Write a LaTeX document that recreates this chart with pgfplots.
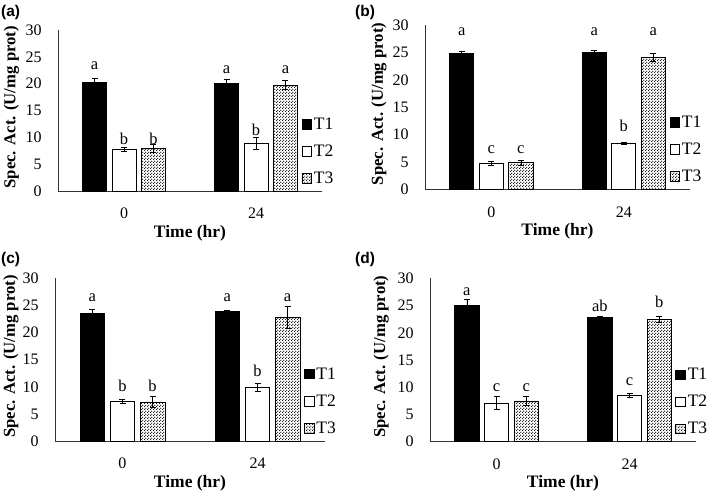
\documentclass[border=0pt]{standalone}
\usepackage{fontspec}
\setmainfont{Liberation Serif}
\newfontfamily\panelfont{Liberation Sans}
\usepackage{pgfplots}
\pgfplotsset{compat=1.18}
\usetikzlibrary{patterns}

\pgfdeclarepatternformonly{finedots}{\pgfqpoint{0pt}{0pt}}{\pgfqpoint{3pt}{3pt}}{\pgfqpoint{3pt}{3pt}}{%
  \pgfpathcircle{\pgfqpoint{0.75pt}{0.75pt}}{0.8pt}%
  \pgfpathcircle{\pgfqpoint{2.25pt}{2.25pt}}{0.8pt}%
  \pgfusepath{fill}}

\tikzset{lett/.style={font=\fontsize{16.5}{16.5}\selectfont, inner sep=0pt}}

\pgfplotsset{
  panel/.style={
    scale only axis, anchor=south west,
    xmin=-0.5, xmax=1.5, ymin=0, ymax=30,
    axis lines=left, axis line style={-, line width=0.8pt, black!80},
    ytick={0,5,...,30}, xtick={0,1}, xticklabels={0,24},
    tick style={draw=none},
    /pgf/number format/assume math mode=true,
    yticklabel style={font=\fontsize{16}{16}\selectfont, anchor=east, inner sep=0pt, xshift=-14pt},
    xticklabel style={font=\fontsize{16}{16}\selectfont, anchor=north, inner sep=0pt, yshift=-15pt},
    xlabel={\textbf{Time (hr)}},
    xlabel style={font=\fontsize{17.5}{17.5}\selectfont, at={(axis description cs:0.5,0)}, anchor=center, yshift=-42pt},
    ylabel={\textbf{Spec. Act. (U/mg prot)}},
    legend style={at={(0.922,0.025)}, anchor=south west, draw=none, fill=none,
      font=\fontsize{17.5}{17.5}\selectfont, inner sep=0pt, row sep=10pt, cells={anchor=west}},
    legend image code/.code={\draw[##1, line width=0.7pt] (0pt,-4.8pt) rectangle (9.6pt,4.8pt);},
    clip=false,
  },
  ylab/.style={ylabel style={font=\fontsize{16.7}{16.7}\selectfont, at={(axis description cs:#1,0.52)}, anchor=center}},
  t1/.style={ybar, bar width=0.182, bar shift=0pt, fill=black, draw=black, line width=0.7pt,
    error bars/.cd, y dir=both, y explicit,
    error bar style={black, line width=0.6pt}, error mark options={black, line width=0.6pt, mark size=3pt, rotate=90}},
  t2/.style={ybar, bar width=0.182, bar shift=0pt, fill=white, draw=black, line width=0.7pt,
    error bars/.cd, y dir=both, y explicit,
    error bar style={black, line width=0.6pt}, error mark options={black, line width=0.6pt, mark size=3pt, rotate=90}},
  t3/.style={ybar, bar width=0.182, bar shift=0pt, pattern=finedots, pattern color=black, draw=black, line width=0.7pt,
    error bars/.cd, y dir=both, y explicit,
    error bar style={black, line width=0.6pt}, error mark options={black, line width=0.6pt, mark size=3pt, rotate=90}},
}

\begin{document}
\begin{tikzpicture}
\path[use as bounding box] (0pt,0pt) rectangle (709pt,-493pt);

% ---------- (a)
\node[anchor=west, font=\panelfont\bfseries\fontsize{15.5}{15.5}\selectfont, inner sep=0pt] at (1pt,-12pt) {(a)};
\begin{axis}[panel, ylab=-0.176, at={(58pt,-191pt)}, width=264pt, height=161pt]
\addplot[t1] coordinates {(-0.223,20.2) +- (0,0.85) (0.777,20.0) +- (0,0.9)};
\addplot[t2] coordinates {(0,7.8) +- (0,0.4) (1,8.9) +- (0,1.05)};
\addplot[t3] coordinates {(0.223,7.95) +- (0,0.7) (1.223,19.75) +- (0,0.85)};
\legend{T1,T2,T3}
\node[lett] at (axis cs:-0.223,23.4) {a};
\node[lett] at (axis cs:0,9.7) {b};
\node[lett] at (axis cs:0.223,9.7) {b};
\node[lett] at (axis cs:0.777,22.6) {a};
\node[lett] at (axis cs:1,11.4) {b};
\node[lett] at (axis cs:1.223,22.6) {a};
\end{axis}

% ---------- (b)
\node[anchor=west, font=\panelfont\bfseries\fontsize{15.5}{15.5}\selectfont, inner sep=0pt] at (355pt,-12pt) {(b)};
\begin{axis}[panel, ylab=-0.174, at={(425pt,-189.3pt)}, width=265pt, height=164.3pt]
\addplot[t1] coordinates {(-0.223,24.75) +- (0,0.5) (0.777,25.0) +- (0,0.4)};
\addplot[t2] coordinates {(0,4.75) +- (0,0.43) (1,8.35) +- (0,0.15)};
\addplot[t3] coordinates {(0.223,4.9) +- (0,0.45) (1.223,24.1) +- (0,0.7)};
\legend{T1,T2,T3}
\node[lett] at (axis cs:-0.223,28.8) {a};
\node[lett] at (axis cs:0,7.3) {c};
\node[lett] at (axis cs:0.223,7.3) {c};
\node[lett] at (axis cs:0.777,28.8) {a};
\node[lett] at (axis cs:1,11.5) {b};
\node[lett] at (axis cs:1.223,28.8) {a};
\end{axis}

% ---------- (c)
\node[anchor=west, font=\panelfont\bfseries\fontsize{15.5}{15.5}\selectfont, inner sep=0pt] at (1pt,-259pt) {(c)};
\begin{axis}[panel, ylab=-0.163, at={(55pt,-441pt)}, width=270pt, height=162.7pt]
\addplot[t1] coordinates {(-0.223,23.6) +- (0,0.6) (0.777,23.9) +- (0,0.2)};
\addplot[t2] coordinates {(0,7.36) +- (0,0.35) (1,9.9) +- (0,0.75)};
\addplot[t3] coordinates {(0.223,7.2) +- (0,1.0) (1.223,22.8) +- (0,1.95)};
\legend{T1,T2,T3}
\node[lett] at (axis cs:-0.223,26.4) {a};
\node[lett] at (axis cs:0,10.1) {b};
\node[lett] at (axis cs:0.223,10.1) {b};
\node[lett] at (axis cs:0.777,26.5) {a};
\node[lett] at (axis cs:1,12.9) {b};
\node[lett] at (axis cs:1.223,26.5) {a};
\end{axis}

% ---------- (d)
\node[anchor=west, font=\panelfont\bfseries\fontsize{15.5}{15.5}\selectfont, inner sep=0pt] at (355pt,-259pt) {(d)};
\begin{axis}[panel, ylab=-0.184, at={(430pt,-441.7pt)}, width=266pt, height=163.4pt]
\addplot[t1] coordinates {(-0.223,25.0) +- (0,1.15) (0.777,22.75) +- (0,0.35)};
\addplot[t2] coordinates {(0,7.1) +- (0,1.2) (1,8.5) +- (0,0.35)};
\addplot[t3] coordinates {(0.223,7.5) +- (0,0.77) (1.223,22.5) +- (0,0.5)};
\legend{T1,T2,T3}
\node[lett] at (axis cs:-0.223,27.6) {a};
\node[lett] at (axis cs:0,9.9) {c};
\node[lett] at (axis cs:0.223,9.9) {c};
\node[lett] at (axis cs:0.777,24.9) {ab};
\node[lett] at (axis cs:1,11.0) {c};
\node[lett] at (axis cs:1.223,25.7) {b};
\end{axis}
\end{tikzpicture}
\end{document}
